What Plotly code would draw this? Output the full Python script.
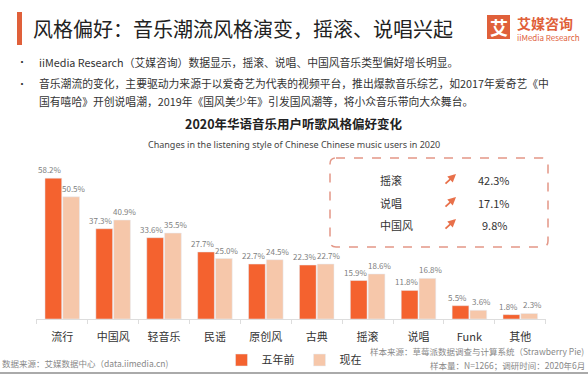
import plotly.graph_objects as go

categories = ["流行", "中国风", "轻音乐", "民谣", "原创风", "古典", "摇滚", "说唱", "Funk", "其他"]
five_years_ago = [58.2, 37.3, 33.6, 27.7, 22.7, 22.3, 15.9, 11.8, 5.5, 1.8]
now = [50.5, 40.9, 35.5, 25.0, 24.5, 22.7, 18.6, 16.8, 3.6, 2.3]
series_names = ["五年前", "现在"]
growth_labels = ["摇滚", "说唱", "中国风"]
growth_values = ["42.3%", "17.1%", "9.8%"]

W, H = 588, 377
DARK = "#F4622F"
LIGHT = "#F6C7AA"
ORANGE = "#E0603A"
FONT = "Noto Sans CJK SC"


def px(x):
    return x / W


def py(y):
    return 1 - y / H


fig = go.Figure()
fig.add_trace(go.Bar(x=categories, y=five_years_ago, name=series_names[0], marker_color=DARK))
fig.add_trace(go.Bar(x=categories, y=now, name=series_names[1], marker_color=LIGHT))

fig.update_layout(
    width=W, height=H, margin=dict(l=0, r=0, t=0, b=0),
    paper_bgcolor="white", plot_bgcolor="white",
    barmode="group", bargap=0.30, bargroupgap=0.06,
    font=dict(family=FONT, color="#333"),
    xaxis=dict(domain=[px(36.25), px(545.75)], showline=True, linecolor="#dddddd", linewidth=1,
               ticks="outside", tickson="boundaries", ticklen=4, tickcolor="#dddddd",
               tickfont=dict(size=11, color="#333", family=FONT), ticklabelstandoff=8,
               showgrid=False, zeroline=False, fixedrange=True),
    yaxis=dict(domain=[py(319), py(125.4)], range=[0, 80], visible=False, fixedrange=True),
    showlegend=True,
    legend=dict(orientation="h", x=px(294), xanchor="center", y=py(360), yanchor="middle",
                font=dict(size=11, color="#333", family=FONT), itemwidth=30,
                bgcolor="rgba(0,0,0,0)"),
)

shapes = []
ann = []

# value labels placed at data coordinates
for cat, v1, v2 in zip(categories, five_years_ago, now):
    for v, shift in ((v1, -12), (v2, 12)):
        ann.append(dict(text=f"{v:.1f}%", x=cat, y=v, xref="x", yref="y", xshift=shift, yshift=1,
                        xanchor="center", yanchor="bottom", showarrow=False,
                        font=dict(size=8, color="#808080", family=FONT)))

# header bar and title
shapes.append(dict(type="rect", xref="paper", yref="paper", x0=px(17), x1=px(22), y0=py(45), y1=py(12),
                   fillcolor=ORANGE, line=dict(width=0)))
ann.append(dict(text="风格偏好：音乐潮流风格演变，摇滚、说唱兴起", x=px(31), y=py(29), xanchor="left", yanchor="middle",
                font=dict(size=20, color="#222", family=FONT), showarrow=False))

# logo
shapes.append(dict(type="rect", xref="paper", yref="paper", x0=px(487), x1=px(510), y0=py(39), y1=py(15),
                   fillcolor=ORANGE, line=dict(width=0)))
ann.append(dict(text="<b>艾</b>", x=px(498.5), y=py(27), xanchor="center", yanchor="middle",
                font=dict(size=18, color="white", family=FONT), showarrow=False))
ann.append(dict(text="<b>艾媒咨询</b>", x=px(515), y=py(23), xanchor="left", yanchor="middle",
                font=dict(size=14, color=ORANGE, family=FONT), showarrow=False))
ann.append(dict(text="iiMedia Research", x=px(515), y=py(37), xanchor="left", yanchor="middle",
                font=dict(size=8, color=ORANGE, family=FONT), showarrow=False))

# bullets
bullets = [
    (62, "•", "iiMedia Research（艾媒咨询）数据显示，摇滚、说唱、中国风音乐类型偏好增长明显。"),
    (83, "•", "音乐潮流的变化，主要驱动力来源于以爱奇艺为代表的视频平台，推出爆款音乐综艺，如2017年爱奇艺《中"),
    (101, "", "国有嘻哈》开创说唱潮，2019年《国风美少年》引发国风潮等，将小众音乐带向大众舞台。"),
]
for y, dot, txt in bullets:
    if dot:
        ann.append(dict(text=dot, x=px(22), y=py(y), xanchor="center", yanchor="middle",
                        font=dict(size=10, color="#333", family=FONT), showarrow=False))
    ann.append(dict(text=txt, x=px(37), y=py(y), xanchor="left", yanchor="middle",
                    font=dict(size=10.8, color="#333", family=FONT), showarrow=False))

# chart titles
ann.append(dict(text="<b>2020年华语音乐用户听歌风格偏好变化</b>", x=px(294), y=py(124), xanchor="center", yanchor="middle",
                font=dict(size=12.5, color="#222", family=FONT), showarrow=False))
ann.append(dict(text="Changes in the listening style of Chinese Chinese music users in 2020", x=px(294), y=py(144),
                xanchor="center", yanchor="middle", font=dict(size=9, color="#444", family="Noto Sans"),
                showarrow=False))

# dashed box
x0, x1, y0, y1, r = px(330), px(548), py(247), py(158), 6
rx, ry = r / W, r / H
path = (f"M {x0+rx},{y1} L {x1-rx},{y1} Q {x1},{y1} {x1},{y1-ry} L {x1},{y0+ry} Q {x1},{y0} {x1-rx},{y0} "
        f"L {x0+rx},{y0} Q {x0},{y0} {x0},{y0+ry} L {x0},{y1-ry} Q {x0},{y1} {x0+rx},{y1} Z")
shapes.append(dict(type="path", xref="paper", yref="paper", path=path,
                   line=dict(color="#E39787", width=1.5, dash="dash")))

rows_y = [180, 203, 225]
for yy, lab, val in zip(rows_y, growth_labels, growth_values):
    ann.append(dict(text=lab, x=px(378), y=py(yy), xanchor="left", yanchor="middle",
                    font=dict(size=11, color="#333", family=FONT), showarrow=False))
    ann.append(dict(text=val, x=px(494), y=py(yy), xanchor="center", yanchor="middle",
                    font=dict(size=11, color="#333", family=FONT), showarrow=False))
    ann.append(dict(text="", x=px(456), y=py(yy - 6), ax=-12, ay=11, axref="pixel", ayref="pixel",
                    showarrow=True, arrowhead=2, arrowsize=0.9, arrowwidth=1.8,
                    arrowcolor="#E8704A"))

# footer
ann.append(dict(text="数据来源：艾媒数据中心（data.iimedia.cn)", x=px(0), y=py(363), xanchor="left", yanchor="middle",
                font=dict(size=8.5, color="#888", family=FONT), showarrow=False))
ann.append(dict(text="样本来源：草莓派数据调查与计算系统（Strawberry Pie)", x=px(586), y=py(351), xanchor="right",
                yanchor="middle", font=dict(size=8.5, color="#888", family=FONT), showarrow=False))
ann.append(dict(text="样本量：N=1266；调研时间：2020年6月", x=px(587), y=py(365), xanchor="right",
                yanchor="middle", font=dict(size=8.5, color="#888", family=FONT), showarrow=False))
shapes.append(dict(type="line", xref="paper", yref="paper", x0=0, x1=1, y0=py(373), y1=py(373),
                   line=dict(color="#aaaaaa", width=2)))

for a in ann:
    a.setdefault("xref", "paper")
    a.setdefault("yref", "paper")
fig.update_layout(shapes=shapes, annotations=ann)

fig.write_html("out.html", config={"displayModeBar": False},
               post_script="document.body.style.margin='0';document.body.style.overflow='hidden';")
